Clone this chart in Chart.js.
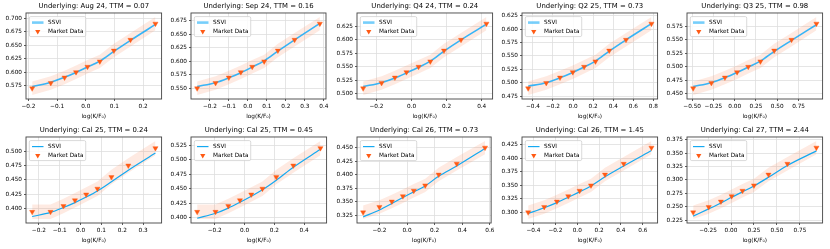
<!DOCTYPE html>
<html>
<head>
<meta charset="utf-8">
<script src="https://cdn.jsdelivr.net/npm/chart.js@4.4.1/dist/chart.umd.min.js"></script>
<style>
  html, body { margin: 0; padding: 0; background: #fff; }
  #grid { position: relative; width: 830px; height: 249px; }
  #grid canvas { position: absolute; }
</style>
</head>
<body>
<div id="grid"></div>
<script>
"use strict";

/* ==========================================================
   DATA
   ========================================================== */
const underlyings = ["Aug 24", "Sep 24", "Q4 24", "Q2 25", "Q3 25", "Cal 25", "Cal 25", "Cal 26", "Cal 26", "Cal 27"];
const ttms = ["0.07", "0.16", "0.24", "0.73", "0.98", "0.24", "0.45", "0.73", "1.45", "2.44"];

// log(K/F0) of each quoted strike
const logMoneyness = [
  [-0.187, -0.122, -0.074, -0.034, 0.006, 0.049, 0.098, 0.156, 0.243],
  [-0.267, -0.170, -0.100, -0.037, 0.023, 0.086, 0.158, 0.246, 0.379],
  [-0.276, -0.171, -0.095, -0.029, 0.040, 0.107, 0.185, 0.282, 0.427],
  [-0.447, -0.267, -0.130, -0.003, 0.110, 0.223, 0.360, 0.527, 0.780],
  [-0.488, -0.274, -0.115, 0.028, 0.159, 0.302, 0.464, 0.667, 0.960],
  [-0.232, -0.144, -0.082, -0.027, 0.027, 0.081, 0.148, 0.229, 0.359],
  [-0.318, -0.195, -0.109, -0.031, 0.045, 0.120, 0.213, 0.327, 0.509],
  [-0.318, -0.200, -0.110, -0.030, 0.049, 0.132, 0.229, 0.360, 0.565],
  [-0.449, -0.302, -0.186, -0.082, 0.022, 0.126, 0.254, 0.425, 0.679],
  [-0.412, -0.243, -0.110, 0.007, 0.125, 0.250, 0.408, 0.614, 0.930],
];

const marketVols = [
  [0.57, 0.58, 0.59, 0.60, 0.61, 0.62, 0.64, 0.66, 0.69],
  [0.55, 0.56, 0.57, 0.58, 0.59, 0.60, 0.62, 0.64, 0.67],
  [0.51, 0.52, 0.53, 0.54, 0.55, 0.56, 0.58, 0.60, 0.63],
  [0.49, 0.50, 0.51, 0.52, 0.53, 0.54, 0.56, 0.58, 0.61],
  [0.46, 0.47, 0.48, 0.49, 0.50, 0.51, 0.53, 0.55, 0.58],
  [0.395, 0.395, 0.405, 0.415, 0.425, 0.435, 0.455, 0.475, 0.505],
  [0.41, 0.41, 0.42, 0.43, 0.44, 0.45, 0.47, 0.49, 0.52],
  [0.33, 0.34, 0.35, 0.36, 0.37, 0.38, 0.40, 0.42, 0.45],
  [0.30, 0.31, 0.32, 0.33, 0.34, 0.35, 0.37, 0.39, 0.42],
  [0.24, 0.25, 0.26, 0.27, 0.28, 0.29, 0.31, 0.33, 0.36],
];

const ssviVols = [
  [0.573, 0.5815, 0.5905, 0.5995, 0.6095, 0.6205, 0.6385, 0.659, 0.6885],
  [0.5535, 0.5605, 0.5695, 0.579, 0.5895, 0.601, 0.619, 0.640, 0.6705],
  [0.5135, 0.5205, 0.529, 0.5385, 0.549, 0.5605, 0.579, 0.600, 0.629],
  [0.494, 0.5005, 0.5095, 0.5195, 0.5295, 0.5405, 0.559, 0.580, 0.610],
  [0.4635, 0.4705, 0.4795, 0.4895, 0.4995, 0.5105, 0.5285, 0.549, 0.578],
  [0.387, 0.394, 0.4025, 0.411, 0.4205, 0.431, 0.447, 0.467, 0.4965],
  [0.399, 0.4075, 0.4165, 0.4265, 0.437, 0.448, 0.4645, 0.487, 0.518],
  [0.3215, 0.3345, 0.3465, 0.3575, 0.368, 0.379, 0.397, 0.416, 0.4485],
  [0.298, 0.3085, 0.318, 0.328, 0.338, 0.349, 0.366, 0.386, 0.4145],
  [0.233, 0.2465, 0.2575, 0.268, 0.278, 0.289, 0.305, 0.327, 0.354],
];

// half width of the shaded market band (vol points)
const bandHalfWidth = 0.0125;

const xTicks = [
  [-0.2, -0.1, 0, 0.1, 0.2],
  [-0.2, -0.1, 0, 0.1, 0.2, 0.3, 0.4],
  [-0.2, 0, 0.2, 0.4],
  [-0.4, -0.2, 0, 0.2, 0.4, 0.6, 0.8],
  [-0.5, -0.25, 0, 0.25, 0.5, 0.75],
  [-0.2, -0.1, 0, 0.1, 0.2, 0.3],
  [-0.2, 0, 0.2, 0.4],
  [-0.2, 0, 0.2, 0.4, 0.6],
  [-0.4, -0.2, 0, 0.2, 0.4, 0.6],
  [-0.25, 0, 0.25, 0.5, 0.75],
];

const yTicks = [
  [0.575, 0.6, 0.625, 0.65, 0.675, 0.7],
  [0.55, 0.575, 0.6, 0.625, 0.65, 0.675],
  [0.5, 0.525, 0.55, 0.575, 0.6, 0.625],
  [0.475, 0.5, 0.525, 0.55, 0.575, 0.6, 0.625],
  [0.45, 0.475, 0.5, 0.525, 0.55, 0.575],
  [0.4, 0.425, 0.45, 0.475, 0.5],
  [0.4, 0.425, 0.45, 0.475, 0.5, 0.525],
  [0.325, 0.35, 0.375, 0.4, 0.425, 0.45],
  [0.3, 0.325, 0.35, 0.375, 0.4, 0.425],
  [0.225, 0.25, 0.275, 0.3, 0.325, 0.35, 0.375],
];

/* ==========================================================
   STYLE
   ========================================================== */
const FONT = '"DejaVu Sans", sans-serif';
const FS = 5.76;
const MARKET_COLOR = "#ff5a14";
const BAND_COLOR = "rgba(250,150,110,0.2)";
const MARKER_R = 3;
const lineStyles = [
  { color: "rgba(20,170,250,0.85)", width: 1.6, legendColor: "rgba(60,185,250,0.7)", legendWidth: 2.6 },
  { color: "#14a9f2", width: 1.2, legendColor: "#14a9f2", legendWidth: 1.2 },
];
const cellLefts = [0, 165, 331, 496, 661];
const CELL_W = 166, CELL_H = 124;

Chart.defaults.font.family = FONT;
Chart.defaults.color = "#000";

const fmt = (v, d) => v.toFixed(d).replace("-", "\u2212");
const decimals = (arr) => Math.max(...arr.map(v => (String(v).split(".")[1] || "").length));

function paddedRange(vals) {
  const lo = Math.min(...vals), hi = Math.max(...vals);
  const pad = (hi - lo) * 0.05;
  return [lo - pad, hi + pad];
}

function triangleDown(ctx, x, y, r) {
  ctx.beginPath();
  for (let k = 0; k < 3; k++) {
    const t = Math.PI + k * 2 * Math.PI / 3;
    const px = x + Math.sin(t) * r, py = y - Math.cos(t) * r;
    if (k === 0) ctx.moveTo(px, py); else ctx.lineTo(px, py);
  }
  ctx.closePath();
}

/* frame + legend drawn on top of the data */
const decorPlugin = {
  id: "decor",
  afterDatasetsDraw(chart, args, opts) {
    const { ctx, chartArea: a } = chart;
    ctx.save();
    ctx.strokeStyle = "#444";
    ctx.lineWidth = 0.9;
    ctx.strokeRect(a.left, a.top, a.right - a.left, a.bottom - a.top);

    // legend, upper left
    const style = lineStyles[opts.row];
    ctx.font = `${FS}px ${FONT}`;
    const labels = [chart.data.datasets[1].label, chart.data.datasets[0].label];
    const textW = Math.max(...labels.map(l => ctx.measureText(l).width));
    const bx = a.left + 3.3, by = a.top + 3.6;
    const w = 2.7 + 11.5 + 4.6 + textW + 2.3, h = 20;
    ctx.beginPath();
    ctx.roundRect(bx, by, w, h, 1.5);
    ctx.fillStyle = "rgba(255,255,255,0.85)";
    ctx.fill();
    ctx.strokeStyle = "#cccccc";
    ctx.lineWidth = 0.7;
    ctx.stroke();

    const y1 = by + 6, y2 = by + 15;
    const hx = bx + 2.7;
    ctx.beginPath();
    ctx.moveTo(hx, y1);
    ctx.lineTo(hx + 11.5, y1);
    ctx.strokeStyle = style.legendColor;
    ctx.lineWidth = style.legendWidth;
    ctx.stroke();

    triangleDown(ctx, hx + 5.75, y2, MARKER_R);
    ctx.fillStyle = MARKET_COLOR;
    ctx.fill();

    ctx.fillStyle = "#000";
    ctx.textBaseline = "middle";
    ctx.textAlign = "left";
    ctx.fillText(labels[0], hx + 11.5 + 4.6, y1 + 0.3);
    ctx.fillText(labels[1], hx + 11.5 + 4.6, y2 + 0.3);
    ctx.restore();
  }
};

/* ==========================================================
   PANELS
   ========================================================== */
const grid = document.getElementById("grid");

underlyings.forEach((und, i) => {
  const col = i % 5, row = Math.floor(i / 5);
  const canvas = document.createElement("canvas");
  canvas.width = CELL_W;
  canvas.height = CELL_H;
  canvas.style.left = cellLefts[col] + "px";
  canvas.style.top = (row * CELL_H) + "px";
  canvas.style.width = CELL_W + "px";
  canvas.style.height = CELL_H + "px";
  grid.appendChild(canvas);

  const xs = logMoneyness[i];
  const mkt = marketVols[i];
  const fit = ssviVols[i];
  const upper = mkt.map((v, k) => ({ x: xs[k], y: v + bandHalfWidth }));
  const lower = mkt.map((v, k) => ({ x: xs[k], y: v - bandHalfWidth }));

  const [xMin, xMax] = paddedRange(xs);
  const [yMin, yMax] = paddedRange([...upper.map(p => p.y), ...lower.map(p => p.y), ...fit]);
  const xd = decimals(xTicks[i]), yd = decimals(yTicks[i]);
  const style = lineStyles[row];

  new Chart(canvas, {
    type: "line",
    data: {
      datasets: [
        {
          label: "Market Data",
          data: mkt.map((v, k) => ({ x: xs[k], y: v })),
          showLine: false,
          pointStyle: "triangle",
          rotation: 180,
          pointRadius: MARKER_R,
          pointBackgroundColor: MARKET_COLOR,
          pointBorderColor: MARKET_COLOR,
          pointBorderWidth: 0.4,
        },
        {
          label: "SSVI",
          data: fit.map((v, k) => ({ x: xs[k], y: v })),
          borderColor: style.color,
          borderWidth: style.width,
          pointRadius: 0,
          cubicInterpolationMode: "monotone",
          fill: false,
        },
        {
          label: "band-upper",
          data: upper,
          borderWidth: 0,
          pointRadius: 0,
          tension: 0,
          backgroundColor: BAND_COLOR,
          fill: "+1",
        },
        {
          label: "band-lower",
          data: lower,
          borderWidth: 0,
          pointRadius: 0,
          tension: 0,
          fill: false,
        },
      ],
    },
    options: {
      responsive: false,
      animation: false,
      events: [],
      layout: { padding: { left: 0, right: 3.5, top: 0, bottom: 0 } },
      plugins: {
        legend: { display: false },
        tooltip: { enabled: false },
        title: {
          display: true,
          text: `Underlying: ${und}, TTM = ${ttms[i]}`,
          fullSize: false,
          color: "#000",
          font: { size: 6.9, weight: "normal", family: FONT },
          padding: { top: 2, bottom: 2.7 },
        },
        decor: { row },
      },
      scales: {
        x: {
          type: "linear",
          min: xMin,
          max: xMax,
          afterBuildTicks: (axis) => { axis.ticks = xTicks[i].map(v => ({ value: v })); },
          afterFit: (s) => { s.height = 25; },
          border: { display: false },
          grid: { color: "#dedede", lineWidth: 0.8, tickLength: 2, tickColor: "#333", tickWidth: 0.8 },
          ticks: {
            font: { size: FS }, padding: 2.5, maxRotation: 0, autoSkip: false,
            callback: (v) => fmt(v, xd),
          },
          title: {
            display: true,
            text: "log(K/F\u2080)",
            font: { size: FS },
            padding: { top: 0, bottom: 3.8 },
          },
        },
        y: {
          type: "linear",
          min: yMin,
          max: yMax,
          afterBuildTicks: (axis) => { axis.ticks = yTicks[i].map(v => ({ value: v })); },
          afterFit: (s) => { s.width = 26; },
          border: { display: false },
          grid: { color: "#dedede", lineWidth: 0.8, tickLength: 2, tickColor: "#333", tickWidth: 0.8 },
          ticks: {
            font: { size: FS }, padding: 2, autoSkip: false,
            callback: (v) => fmt(v, yd),
          },
        },
      },
    },
    plugins: [decorPlugin],
  });
});
</script>
</body>
</html>
